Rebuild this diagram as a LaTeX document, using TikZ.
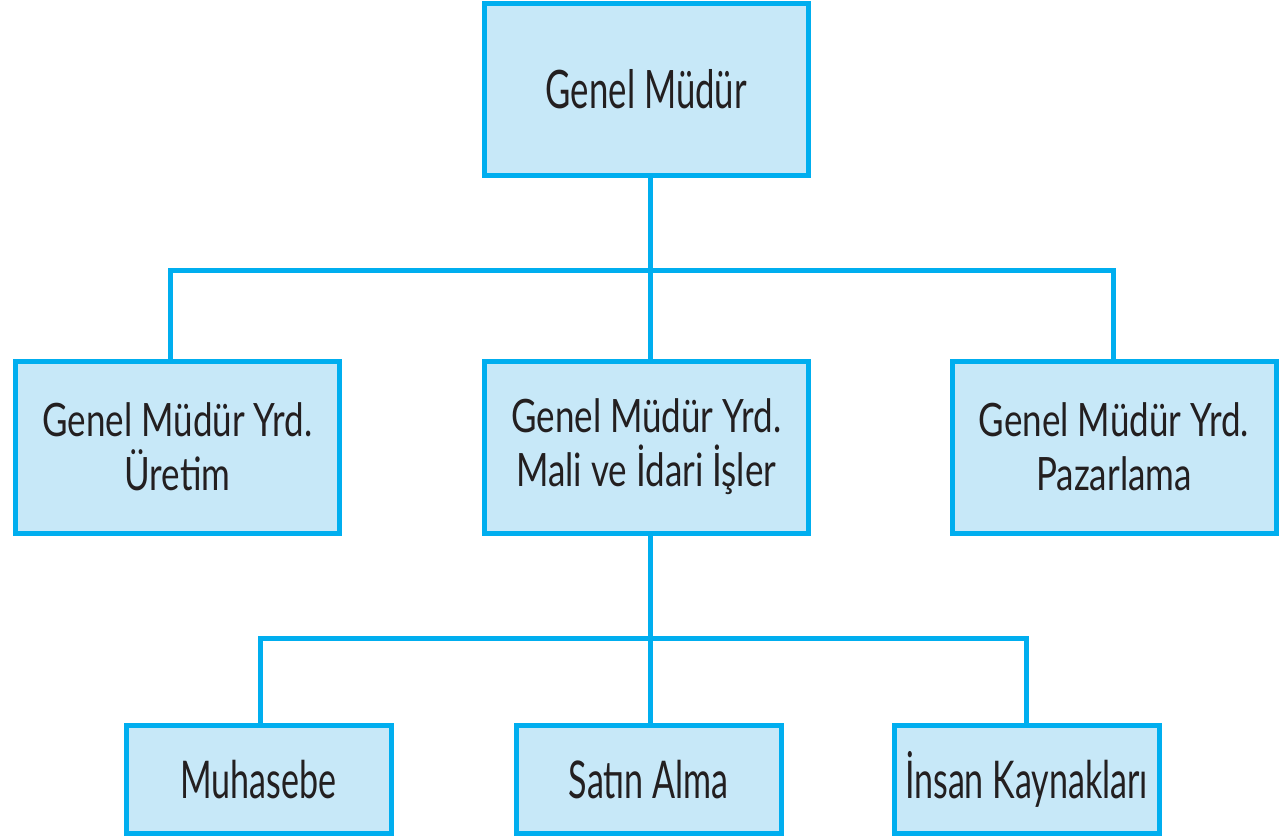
\documentclass[tikz,border=0pt]{standalone}
\usepackage{fontspec}
\newfontfamily\midfont[FakeStretch=0.76]{Lato}
\newfontfamily\bigfont[FakeStretch=0.655]{Lato}
\definecolor{lineblue}{HTML}{00AEEF}
\definecolor{boxfill}{HTML}{C7E8F8}
\definecolor{txt}{HTML}{231F20}
\begin{document}
\begin{tikzpicture}[x=1pt,y=-1pt,
  box/.style={draw=lineblue, line width=5pt, fill=boxfill, inner sep=0pt, outer sep=0pt,
    align=center, text=txt, minimum width=324pt},
  topbox/.style={box, minimum height=172pt, font=\bigfont\fontsize{53}{60}\selectfont},
  midbox/.style={box, minimum height=172pt, font=\midfont\fontsize{46}{54}\selectfont},
  lowbox/.style={box, minimum width=265pt, minimum height=107.5pt, font=\bigfont\fontsize{52}{60}\selectfont},
  conn/.style={draw=lineblue, line width=5pt}]
\useasboundingbox (0,0) rectangle (1280,836);
\coordinate (cl) at (170,270);
\coordinate (cm) at (650,270);
\coordinate (cr) at (1113,270);
\coordinate (dl) at (260,638);
\coordinate (dm) at (650,638);
\coordinate (dr) at (1026,638);
\node[topbox] (top) at (646.25,89) {Genel Müdür};
\node[midbox] (ml) at (177.5,447) {Genel Müdür Yrd.\\Üretim};
\node[midbox] (mc) at (646.25,447) {Genel Müdür Yrd.\\Mali ve İdari İşler};
\node[midbox] (mr) at (1114,447) {Genel Müdür Yrd.\\Pazarlama};
\node[lowbox] (b1) at (258.5,779.25) {Muhasebe};
\node[lowbox] (b2) at (648.75,779.25) {Satın Alma};
\node[lowbox] (b3) at (1026.5,779.25) {İnsan Kaynakları};
\draw[conn] (cm |- top.south) -- (cm |- mc.north);
\draw[conn] (cl |- ml.north) -- (cl) -- (cr) -- (cr |- mr.north);
\draw[conn] (dm |- mc.south) -- (dm |- b2.north);
\draw[conn] (dl |- b1.north) -- (dl) -- (dr) -- (dr |- b3.north);
\end{tikzpicture}
\end{document}
